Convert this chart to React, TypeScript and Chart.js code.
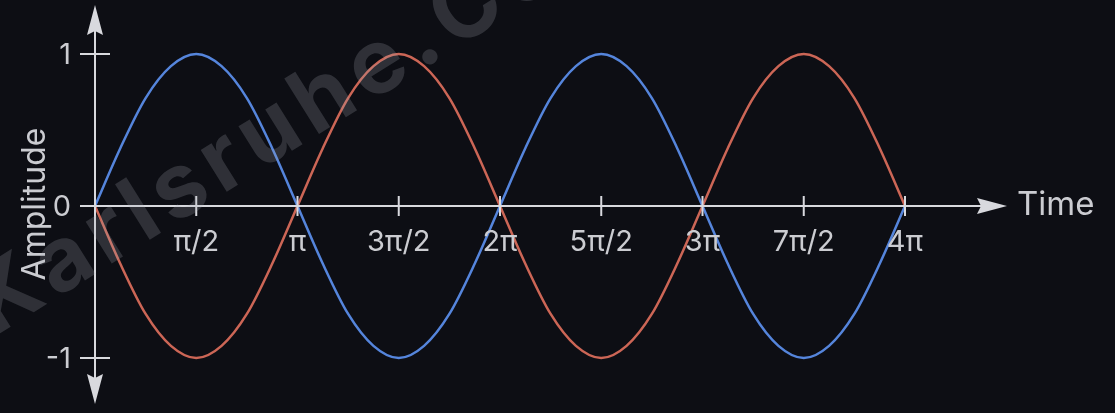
import React, { useEffect, useRef } from 'react';
import { Chart, registerables } from 'chart.js';

Chart.register(...registerables);

// Phase steps of π/8 from 0 to 4π
const phaseSteps = [
  '0', 'π/8', 'π/4', '3π/8', 'π/2', '5π/8', '3π/4', '7π/8', 'π',
  '9π/8', '5π/4', '11π/8', '3π/2', '13π/8', '7π/4', '15π/8', '2π',
  '17π/8', '9π/4', '19π/8', '5π/2', '21π/8', '11π/4', '23π/8', '3π',
  '25π/8', '13π/4', '27π/8', '7π/2', '29π/8', '15π/4', '31π/8', '4π',
];

const blueWave = [
  0, 0.38, 0.71, 0.92, 1, 0.92, 0.71, 0.38, 0,
  -0.38, -0.71, -0.92, -1, -0.92, -0.71, -0.38, 0,
  0.38, 0.71, 0.92, 1, 0.92, 0.71, 0.38, 0,
  -0.38, -0.71, -0.92, -1, -0.92, -0.71, -0.38, 0,
];

const redWave = [
  0, -0.38, -0.71, -0.92, -1, -0.92, -0.71, -0.38, 0,
  0.38, 0.71, 0.92, 1, 0.92, 0.71, 0.38, 0,
  -0.38, -0.71, -0.92, -1, -0.92, -0.71, -0.38, 0,
  0.38, 0.71, 0.92, 1, 0.92, 0.71, 0.38, 0,
];

const xTickLabels = ['π/2', 'π', '3π/2', '2π', '5π/2', '3π', '7π/2', '4π'];
const yTickValues = [1, 0, -1];
const yTickLabels = ['1', '0', '-1'];
const watermarkText = 'Karlsruhe.Com';

const BG = '#0d0e14';
const AXIS = '#d8d9de';
const TEXT = '#cbccd1';
const BLUE = '#5585dc';
const RED = '#cc6656';
const FONT = 'Inter, "Noto Sans", "DejaVu Sans", sans-serif';

const axesPlugin = {
  id: 'customAxes',
  afterDatasetsDraw(chart: any) {
    const { ctx, chartArea } = chart;
    const xs = chart.scales.x;
    const ys = chart.scales.y;
    const x0 = xs.getPixelForValue(0);
    const y0 = ys.getPixelForValue(0);
    ctx.save();
    ctx.strokeStyle = AXIS;
    ctx.fillStyle = AXIS;
    ctx.lineWidth = 2;

    // horizontal axis
    const hTip = chartArea.right + 102;
    ctx.beginPath();
    ctx.moveTo(x0 - 15, y0);
    ctx.lineTo(hTip - 26, y0);
    ctx.stroke();
    ctx.beginPath();
    ctx.moveTo(hTip, y0);
    ctx.lineTo(hTip - 30, y0 - 8);
    ctx.lineTo(hTip - 26, y0);
    ctx.lineTo(hTip - 30, y0 + 8);
    ctx.closePath();
    ctx.fill();

    // vertical axis
    const vTop = chartArea.top - 49;
    const vBot = chartArea.bottom + 46;
    ctx.beginPath();
    ctx.moveTo(x0, vTop + 26);
    ctx.lineTo(x0, vBot - 26);
    ctx.stroke();
    ctx.beginPath();
    ctx.moveTo(x0, vTop);
    ctx.lineTo(x0 - 8, vTop + 30);
    ctx.lineTo(x0, vTop + 26);
    ctx.lineTo(x0 + 8, vTop + 30);
    ctx.closePath();
    ctx.fill();
    ctx.beginPath();
    ctx.moveTo(x0, vBot);
    ctx.lineTo(x0 - 8, vBot - 30);
    ctx.lineTo(x0, vBot - 26);
    ctx.lineTo(x0 + 8, vBot - 30);
    ctx.closePath();
    ctx.fill();

    // x ticks + labels
    ctx.font = `29px ${FONT}`;
    ctx.textAlign = 'center';
    ctx.textBaseline = 'middle';
    xTickLabels.forEach((lab) => {
      const idx = phaseSteps.indexOf(lab);
      const px = xs.getPixelForValue(idx);
      ctx.strokeStyle = AXIS;
      ctx.beginPath();
      ctx.moveTo(px, y0 - 10);
      ctx.lineTo(px, y0 + 10);
      ctx.stroke();
      ctx.fillStyle = TEXT;
      ctx.fillText(lab, px, y0 + 36);
    });

    // y ticks + labels
    ctx.textAlign = 'right';
    yTickValues.forEach((v, i) => {
      const py = ys.getPixelForValue(v);
      if (v !== 0) {
        ctx.strokeStyle = AXIS;
        ctx.beginPath();
        ctx.moveTo(x0 - 15, py);
        ctx.lineTo(x0 + 15, py);
        ctx.stroke();
      }
      ctx.fillStyle = TEXT;
      ctx.fillText(yTickLabels[i], x0 - 24, py + 1);
    });

    // axis titles
    ctx.font = `33px ${FONT}`;
    ctx.textAlign = 'left';
    ctx.fillText('Time', chartArea.right + 112, y0 - 1);
    ctx.save();
    ctx.translate(35, y0 - 2);
    ctx.rotate(-Math.PI / 2);
    ctx.textAlign = 'center';
    ctx.font = `32px ${FONT}`;
    ctx.fillText('Amplitude', 0, 0);
    ctx.restore();

    ctx.restore();
  },
  afterDraw(chart: any) {
    const { ctx } = chart;
    ctx.save();
    ctx.translate(-20, 314);
    ctx.rotate((-32 * Math.PI) / 180);
    ctx.font = `bold 90px ${FONT}`;
    ctx.fillStyle = 'rgba(170,173,182,0.22)';
    ctx.textAlign = 'left';
    ctx.textBaseline = 'middle';
    let cx = 0;
    for (const ch of watermarkText) {
      ctx.fillText(ch, cx, 0);
      cx += ctx.measureText(ch).width + 8;
    }
    ctx.restore();
  },
};

export default function App() {
  const canvasRef = useRef<HTMLCanvasElement | null>(null);

  useEffect(() => {
    if (!canvasRef.current) return;
    const chart = new Chart(canvasRef.current, {
      type: 'line',
      data: {
        labels: phaseSteps,
        datasets: [
          {
            label: 'sin',
            data: blueWave,
            borderColor: BLUE,
            borderWidth: 2.5,
            pointRadius: 0,
            cubicInterpolationMode: 'monotone',
            fill: false,
            clip: false as any,
          },
          {
            label: '-sin',
            data: redWave,
            borderColor: RED,
            borderWidth: 2.5,
            pointRadius: 0,
            cubicInterpolationMode: 'monotone',
            fill: false,
            clip: false as any,
          },
        ],
      },
      options: {
        responsive: false,
        animation: false,
        layout: { padding: { left: 95, right: 210, top: 54, bottom: 55 } },
        plugins: {
          legend: { display: false },
          tooltip: { enabled: false },
        },
        scales: {
          x: { type: 'category', display: false, offset: false },
          y: { type: 'linear', display: false, min: -1, max: 1 },
        },
      },
      plugins: [axesPlugin],
    });
    return () => chart.destroy();
  }, []);

  return (
    <div
      style={{
        position: 'fixed',
        left: 0,
        top: 0,
        width: 1115,
        height: 413,
        background: BG,
      }}
    >
      <canvas ref={canvasRef} width={1115} height={413} />
    </div>
  );
}
